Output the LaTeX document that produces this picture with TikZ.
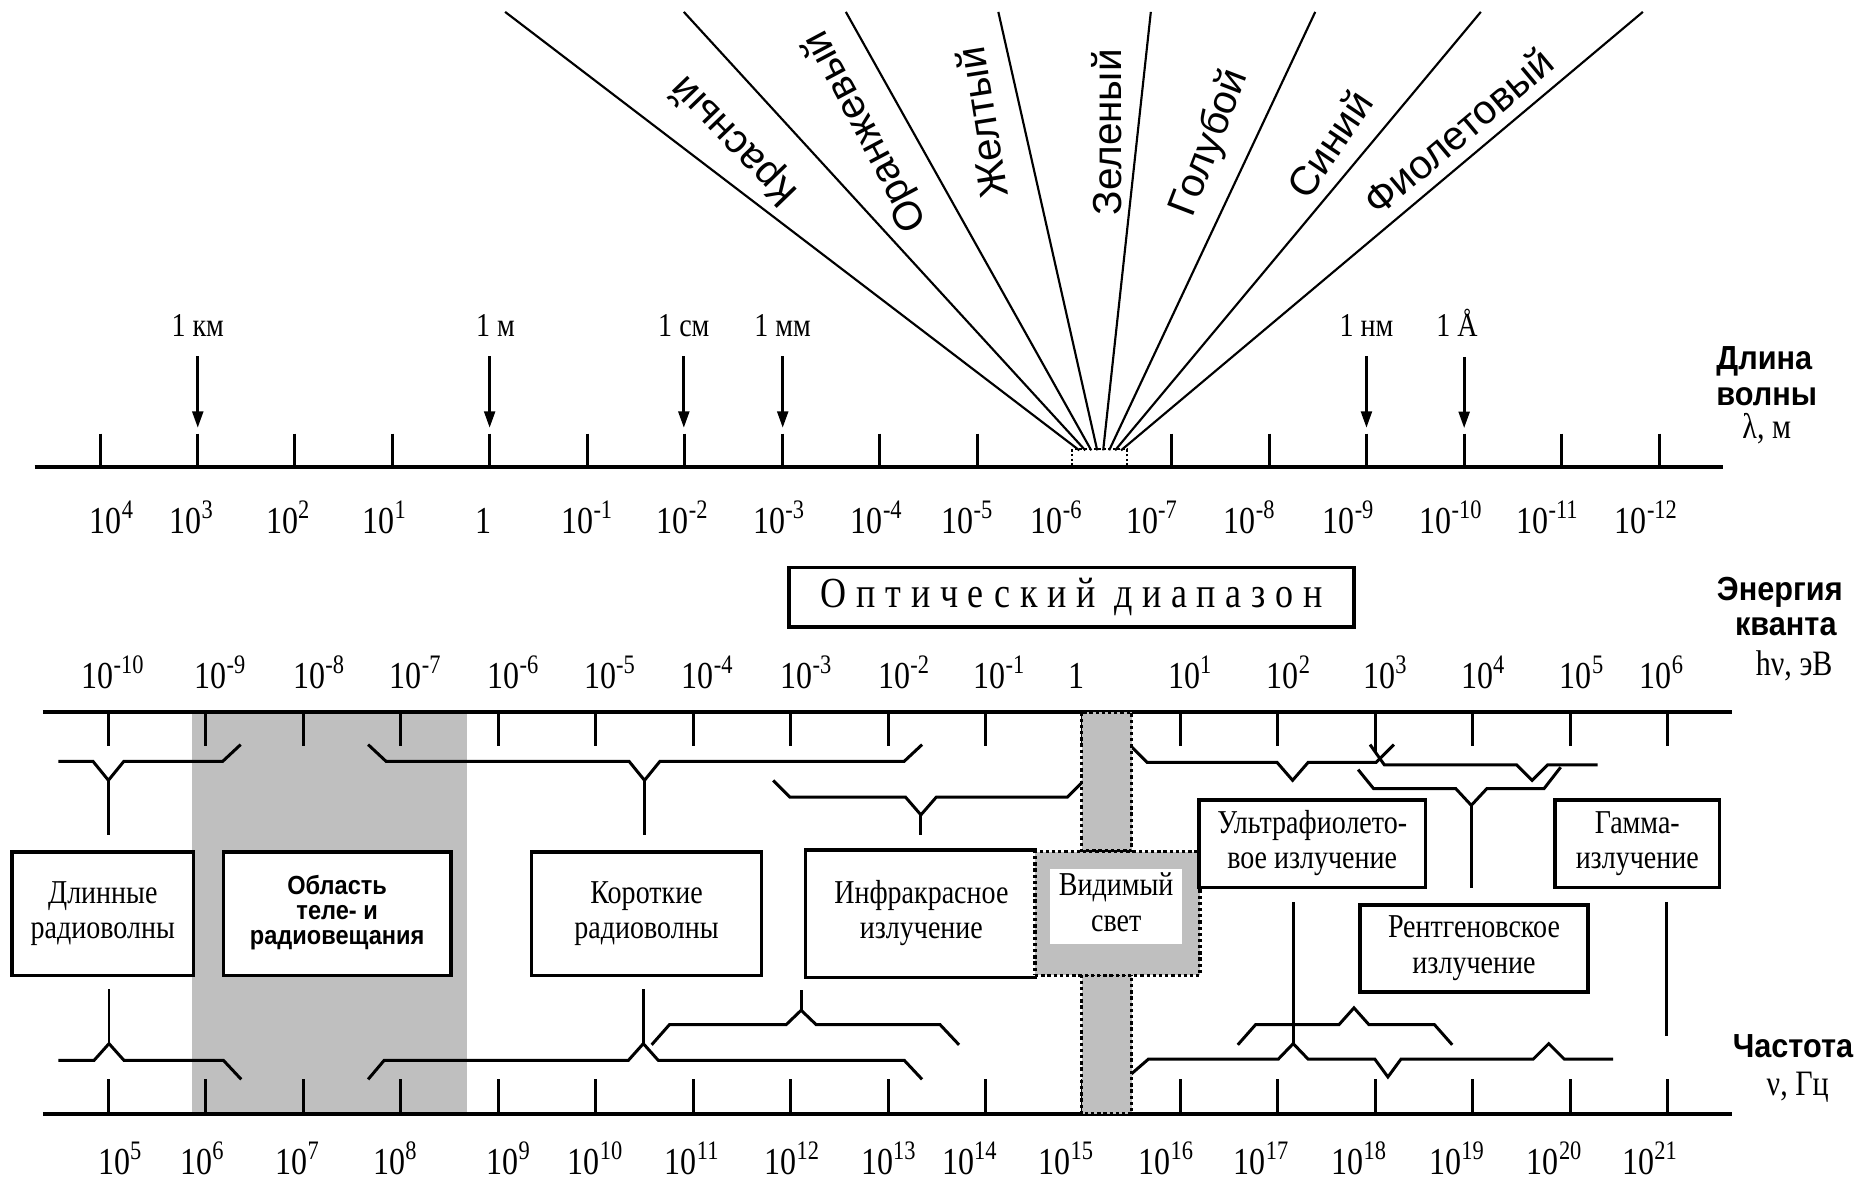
\documentclass[tikz,border=0pt]{standalone}
\usepackage{fontspec}
\setmainfont{Liberation Serif}
\newfontfamily\sansf{Liberation Sans}
\usetikzlibrary{arrows.meta}
\newcommand\sqz[2][0.84]{\scalebox{#1}[1]{\begin{tabular}{@{}c@{}}#2\end{tabular}}}
\newcommand\pw[1]{\scalebox{0.84}[1]{10\textsuperscript{#1}}}
\newcommand\one{\scalebox{0.84}[1]{1}}
\begin{document}
\begin{tikzpicture}[x=0.5pt,y=-0.5pt,
  ax/.style={line width=1.7pt},
  tk/.style={line width=1.25pt},
  brc/.style={line width=1.25pt},
  fanline/.style={line width=0.9pt},
  bx/.style={draw,line width=1.5pt,fill=white,inner sep=0pt,anchor=north west,font=\fontsize{14}{15}\selectfont},
  num/.style={font=\fontsize{16}{18}\selectfont,inner sep=0pt,anchor=base},
  lbl/.style={font=\fontsize{14}{16}\selectfont,inner sep=0pt,anchor=base},
  hdr/.style={font=\sansf\bfseries\fontsize{14}{16}\selectfont,inner sep=0pt},
  unitl/.style={font=\fontsize{15}{17}\selectfont,inner sep=0pt},
  colr/.style={font=\sansf\fontsize{17}{20}\selectfont,inner sep=0pt},
  dotb/.style={line width=1.3pt,dash pattern=on 1.4pt off 1.2pt},
  arr/.style={line width=1.3pt,-{Triangle[length=7pt,width=4.5pt]}},
  band/.style={fill=black!25},
]
\useasboundingbox (0,0) rectangle (1568,991);
\fill[white] (0,0) rectangle (1568,991);

% grey TV/radio band
\fill[band] (161,598) rectangle (392,935);

% ---------- wavelength axis ----------
\draw[ax] (29,392) -- (1446,392);
\foreach \k in {0,1,2,3,4,5,6,7,8,9,11,12,13,14,15,16}
  \draw[tk] ({84+81.79*\k},364) -- ({84+81.79*\k},392);

% fan of spectral lines
\foreach \ta/\tb in {424/906,574/911,710/916,838/921,966/926,1104/931,1243/936,1379/941}
  \draw[fanline] (\ta,10) -- (\tb,378);
\draw[line width=0.8pt,dash pattern=on 1pt off 1pt] (900,377) rectangle (946,391);

% colour names
\node[colr,rotate=134] (c1) at (617,118) {Красный};
\node[colr,rotate=118] (c2) at (727,110) {Оранжевый};
\node[colr,rotate=99]  (c3) at (824,103) {Желтый};
\node[colr,rotate=90]  (c4) at (929,111) {Зеленый};
\node[colr,rotate=69]  (c5) at (1016,120) {Голубой};
\node[colr,rotate=56]  (c6) at (1116,121) {Синий};
\node[colr,rotate=40]  (c7) at (1224,110) {Фиолетовый};

% unit arrows
\node[lbl] (akm) at (166,283) {\sqz{1 км}};
\node[lbl] (am)  at (416,283) {\sqz{1 м}};
\node[lbl] (acm) at (574,283) {\sqz{1 см}};
\node[lbl] (amm) at (657,283) {\sqz{1 мм}};
\node[lbl] (anm) at (1147,283) {\sqz{1 нм}};
\node[lbl] (aa)  at (1223,283) {\sqz{1 Å}};
\draw[arr] (akm.south) ++(0,7) -- ++(0,60);
\draw[arr] ([xshift=-2.5pt]am.south) ++(0,7) -- ++(0,60);
\draw[arr] (acm.south) ++(0,7) -- ++(0,60);
\draw[arr] (amm.south) ++(0,7) -- ++(0,60);
\draw[arr] (anm.south) ++(0,7) -- ++(0,60);
\draw[arr] ([xshift=3pt]aa.south) ++(0,7) -- ++(0,60);

% wavelength labels
\foreach \x/\t [count=\i] in {94/\pw{4},161/\pw{3},242/\pw{2},323/\pw{1},406/\one,493/\pw{-1},573/\pw{-2},654/\pw{-3},736/\pw{-4},812/\pw{-5},887/\pw{-6},967/\pw{-7},1049/\pw{-8},1132/\pw{-9},1218/\pw{-10},1299/\pw{-11},1382/\pw{-12}}
  \node[num] (wl\i) at (\x,448) {\t};

\node[hdr] (hl1) at (1481,303) {\scalebox{0.92}[1]{Длина}};
\node[hdr] (hl2) at (1483,333) {\scalebox{0.92}[1]{волны}};
\node[unitl] (hl3) at (1483,361) {\sqz{λ, м}};

% optical range box
\node[draw,line width=1.5pt,minimum width=237pt,minimum height=25pt,inner sep=0pt,anchor=north west,
      font=\fontsize{18}{20}\selectfont] (opt) at (661,475)
  {\scalebox{0.84}[1]{\addfontfeature{LetterSpace=27}Оптический диапазон}};

% ---------- energy axis ----------
\foreach \x/\t [count=\i] in {95/\pw{-10},185/\pw{-9},268/\pw{-8},349/\pw{-7},431/\pw{-6},512/\pw{-5},594/\pw{-4},677/\pw{-3},759/\pw{-2},839/\pw{-1},904/\one,999/\pw{1},1082/\pw{2},1163/\pw{3},1245/\pw{4},1328/\pw{5},1395/\pw{6}}
  \node[num] (en\i) at (\x,578) {\t};
\draw[ax] (36,598) -- (1454,598);
\foreach \k in {0,1,2,3,4,5,6,7,8,9,10,11,12,14,15,16}
  \draw[tk] ({91+81.8*\k},598) -- ({91+81.8*\k},626);
\draw[tk] ({91+81.8*13},598) -- ({91+81.8*13},632);

\node[hdr] (he1) at (1494,497) {\scalebox{0.92}[1]{Энергия}};
\node[hdr] (he2) at (1499,526) {\scalebox{0.92}[1]{кванта}};
\node[unitl] (he3) at (1506,560) {\sqz{hν, эВ}};

% ---------- frequency axis ----------
\draw[ax] (36,935) -- (1454,935);
\foreach \k in {0,1,2,3,4,5,6,7,8,9,10,11,12,13,14,15,16}
  \draw[tk] ({91+81.8*\k},906) -- ({91+81.8*\k},935);
\foreach \x/\t [count=\i] in {101/\pw{5},170/\pw{6},250/\pw{7},332/\pw{8},427/\pw{9},500/\pw{10},581/\pw{11},665/\pw{12},746/\pw{13},814/\pw{14},895/\pw{15},979/\pw{16},1059/\pw{17},1141/\pw{18},1223/\pw{19},1305/\pw{20},1385/\pw{21}}
  \node[num] (fq\i) at (\x,986) {\t};

\node[hdr] (hf1) at (1505,878) {\scalebox{0.92}[1]{Частота}};
\node[unitl] (hf2) at (1509,913) {\sqz{ν, Гц}};

% ---------- upper braces ----------
\draw[brc] (49,639) -- (78,639) -- (91,655) -- (104,639) -- (187,639) -- (202,625);
\draw[brc] (91,655) -- (91,701);
\draw[brc] (309,625) -- (324,639) -- (528,639) -- (541,655) -- (554,639) -- (759,639) -- (774,625);
\draw[brc] (541,655) -- (541,701);
\draw[brc] (649,655) -- (663,669) -- (760,669) -- (773,684) -- (786,669) -- (896,669) -- (910,655);
\draw[brc] (773,684) -- (773,701);
\draw[brc] (950,627) -- (963,640) -- (1072,640) -- (1085,655) -- (1098,640) -- (1155,640) -- (1170,625);
\draw[brc] (1150,625) -- (1162,642) -- (1273,642) -- (1286,655) -- (1299,642) -- (1341,642);
\draw[brc] (1140,646) -- (1153,662) -- (1222,662) -- (1235,676) -- (1248,662) -- (1296,662) -- (1310,644);
\draw[brc] (1235,676) -- (1235,745);

% ---------- lower braces ----------
\draw[brc] (49,890) -- (79,890) -- (91.5,876) -- (104,890) -- (187.5,890) -- (202.5,906);
\draw[brc] (91.5,876) -- (91.5,830);
\draw[brc] (309,906) -- (322.5,890) -- (527.5,890) -- (540,876) -- (552.5,890) -- (759,890) -- (774,906);
\draw[brc] (540,876) -- (540,830);
\draw[brc] (547,877) -- (562,860) -- (660,860) -- (672.5,848) -- (685,860) -- (789,860) -- (805,877);
\draw[brc] (672.5,848) -- (672.5,831);
\draw[brc] (949,902) -- (964,889) -- (1073,889) -- (1085.5,876) -- (1098,889) -- (1154,889) -- (1165,904) -- (1176,889) -- (1287,889) -- (1300,876) -- (1313,889) -- (1354,889);
\draw[brc] (1085.5,876) -- (1085.5,757);
\draw[brc] (1039,877) -- (1054,860) -- (1124,860) -- (1136.5,846) -- (1149,860) -- (1204,860) -- (1219,877);
\draw[brc] (1399,757) -- (1399,870);

% ---------- visible column ----------
\filldraw[band,draw=black,dotb] (908,598) rectangle (950,714);
\filldraw[band,draw=black,dotb] (908,818) rectangle (950,935);

% ---------- boxes ----------
\node[bx,minimum width=76.2pt,minimum height=52pt] (dl) at (8.6,713.5) {\sqz{Длинные\\радиоволны}};
\node[bx,minimum width=95.5pt,minimum height=52pt,font=\sansf\bfseries\fontsize{11}{10.5}\selectfont] (obl) at (186,713.5) {\sqz[0.9]{Область\\теле- и\\радиовещания}};
\node[bx,minimum width=96.5pt,minimum height=52pt] (kor) at (444.7,713.5) {\sqz{Короткие\\радиоволны}};
\node[bx,draw=none,minimum width=95.6pt,minimum height=52pt] (ir) at (676.3,713.5) {\sqz{Инфракрасное\\излучение}};
\draw[line width=1.5pt] (ir.north east) -- (ir.north west) -- (ir.south west) -- (ir.south east);
\node[bx,band,dotb,minimum width=69.25pt,minimum height=52pt] (vis) at (867.5,713.5) {};
\node[fill=white,inner sep=0pt,minimum width=55.5pt,minimum height=31.5pt,anchor=north west,font=\fontsize{14}{15}\selectfont] (visin) at (881,729) {\sqz{Видимый\\свет}};
\node[bx,minimum width=95.25pt,minimum height=36.75pt] (uv) at (1004.7,670) {\sqz{Ультрафиолето-\\вое излучение}};
\node[bx,minimum width=69.2pt,minimum height=36.75pt] (gam) at (1303.6,670) {\sqz{Гамма-\\излучение}};
\node[bx,minimum width=95.55pt,minimum height=36.35pt] (xr) at (1140.2,758.3) {\sqz{Рентгеновское\\излучение}};
\end{tikzpicture}
\end{document}
